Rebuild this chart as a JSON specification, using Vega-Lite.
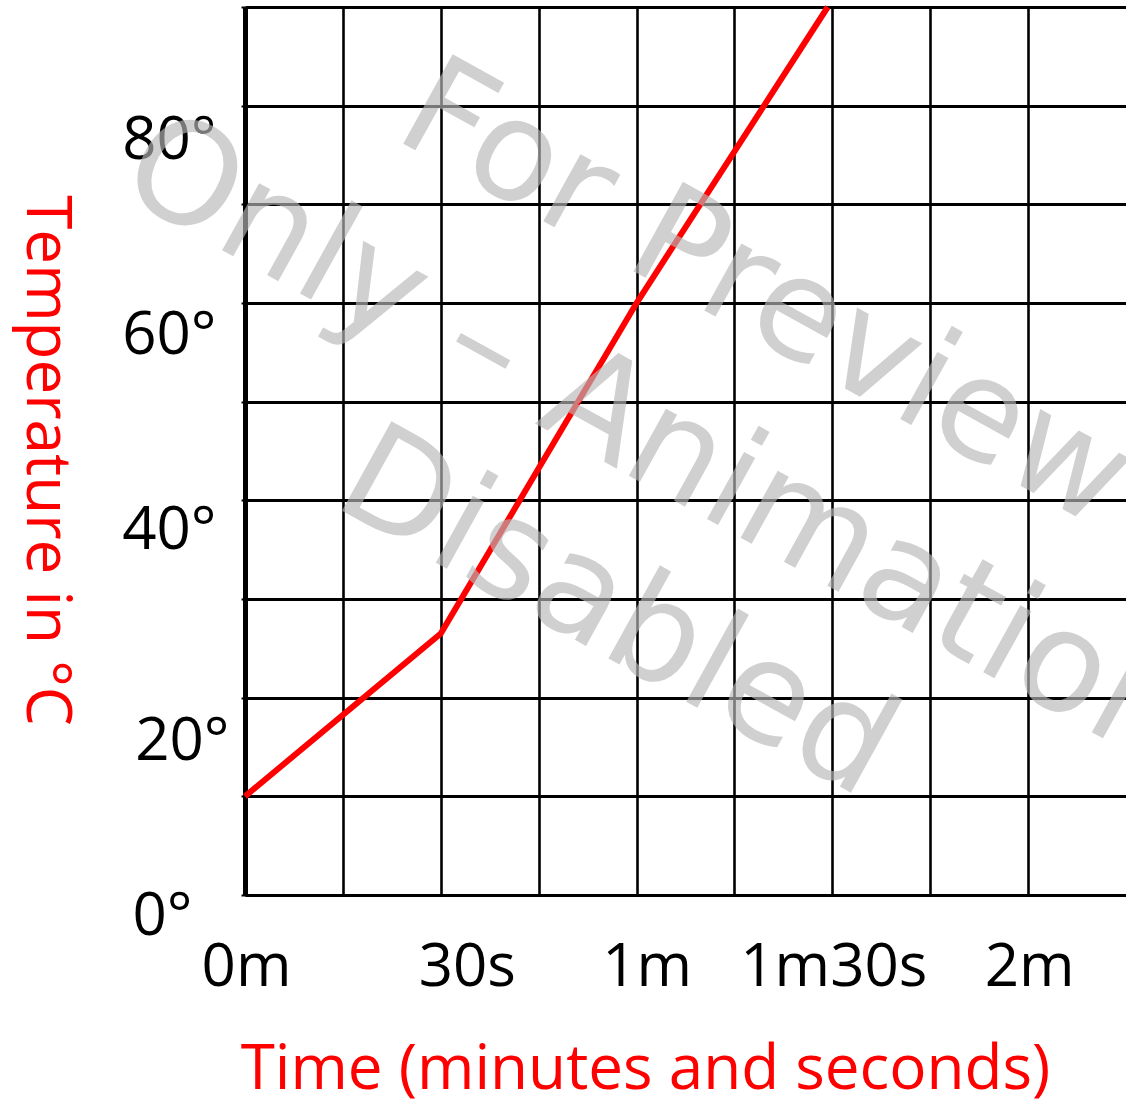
{
  "$schema": "https://vega.github.io/schema/vega-lite/v6.json",
  "width": 881,
  "height": 888,
  "autosize": {"type": "none"},
  "padding": {"left": 245, "top": 7, "right": 0, "bottom": 210},
  "background": "white",
  "config": {"view": {"stroke": null}, "font": "Open Sans"},
  "datasets": {
    "temp": [
      {"time": 0, "temp": 10},
      {"time": 30, "temp": 26.5},
      {"time": 60, "temp": 60},
      {"time": 89.3, "temp": 90}
    ],
    "wm": [
      {"time": 79.7, "temp": 60.7, "text": "For Preview"},
      {"time": 63.1, "temp": 45.8, "text": "Only – Animation"},
      {"time": 56.9, "temp": 28.4, "text": "Disabled"}
    ]
  },
  "encoding": {
    "x": {
      "field": "time",
      "type": "quantitative",
      "scale": {"domain": [0, 135], "nice": false, "zero": false},
      "axis": {
        "values": [0, 15, 30, 45, 60, 75, 90, 105, 120],
        "grid": true,
        "gridColor": "black",
        "gridWidth": 2.6,
        "gridOpacity": 1,
        "ticks": false,
        "domain": true,
        "domainColor": "black",
        "domainWidth": 3,
        "labelExpr": "datum.value == 0 ? '0m' : datum.value == 30 ? '30s' : datum.value == 60 ? '1m' : datum.value == 90 ? '1m30s' : datum.value == 120 ? '2m' : ''",
        "labelFont": "Open Sans",
        "labelFontSize": 60,
        "labelColor": "black",
        "labelBaseline": "alphabetic",
        "labelPadding": 90,
        "labelLimit": 0,
        "labelFlush": false,
        "labelOverlap": false,
        "labelOffset": {"condition": [{"test": "datum.value == 30", "value": 26}, {"test": "datum.value == 60", "value": 10}], "value": 1},
        "title": "Time (minutes and seconds)",
        "titleColor": "#ff0000",
        "titleFont": "Open Sans",
        "titleFontSize": 62,
        "titleFontWeight": "normal",
        "titleX": 400,
        "titleY": 193,
        "titleLimit": 0,
        "titleAlign": "center",
        "titleBaseline": "alphabetic"
      }
    },
    "y": {
      "field": "temp",
      "type": "quantitative",
      "scale": {"domain": [0, 90], "nice": false, "zero": false},
      "axis": {
        "values": [0, 10, 20, 30, 40, 50, 60, 70, 80, 90],
        "grid": true,
        "gridColor": "black",
        "gridWidth": 2.8,
        "gridOpacity": 1,
        "ticks": true,
        "tickSize": 4,
        "tickWidth": 2,
        "tickColor": "black",
        "domain": true,
        "domainColor": "black",
        "domainWidth": 5,
        "labelExpr": "(datum.value % 20 == 0 && datum.value < 90) ? datum.value + '°' : ''",
        "labelFont": "Open Sans",
        "labelFontSize": 60,
        "labelColor": "black",
        "labelAlign": "right",
        "labelBaseline": "alphabetic",
        "labelLimit": 0,
        "labelFlush": false,
        "labelOverlap": false,
        "labelPadding": {"condition": [{"test": "datum.value == 20", "value": 12}, {"test": "datum.value == 0", "value": 49}], "value": 25},
        "labelOffset": {"condition": [{"test": "datum.value == 0", "value": 39}, {"test": "datum.value == 20", "value": 62}, {"test": "datum.value == 40", "value": 48}, {"test": "datum.value == 60", "value": 50}], "value": 53},
        "title": "Temperature in °C",
        "titleColor": "#ff0000",
        "titleFont": "Open Sans",
        "titleFontSize": 62,
        "titleFontWeight": "normal",
        "titleAngle": 90,
        "titleX": -200,
        "titleY": 453,
        "titleLimit": 0,
        "titleAlign": "center",
        "titleBaseline": "middle"
      }
    }
  },
  "layer": [
    {
      "data": {"name": "temp"},
      "mark": {"type": "line", "color": "#ff0000", "strokeWidth": 6}
    },
    {
      "data": {"name": "wm"},
      "mark": {
        "type": "text",
        "angle": 29,
        "font": "DejaVu Sans",
        "fontSize": 140,
        "color": "#b8b8b8",
        "opacity": 0.65,
        "align": "center",
        "baseline": "middle"
      },
      "encoding": {"text": {"field": "text"}}
    }
  ]
}
